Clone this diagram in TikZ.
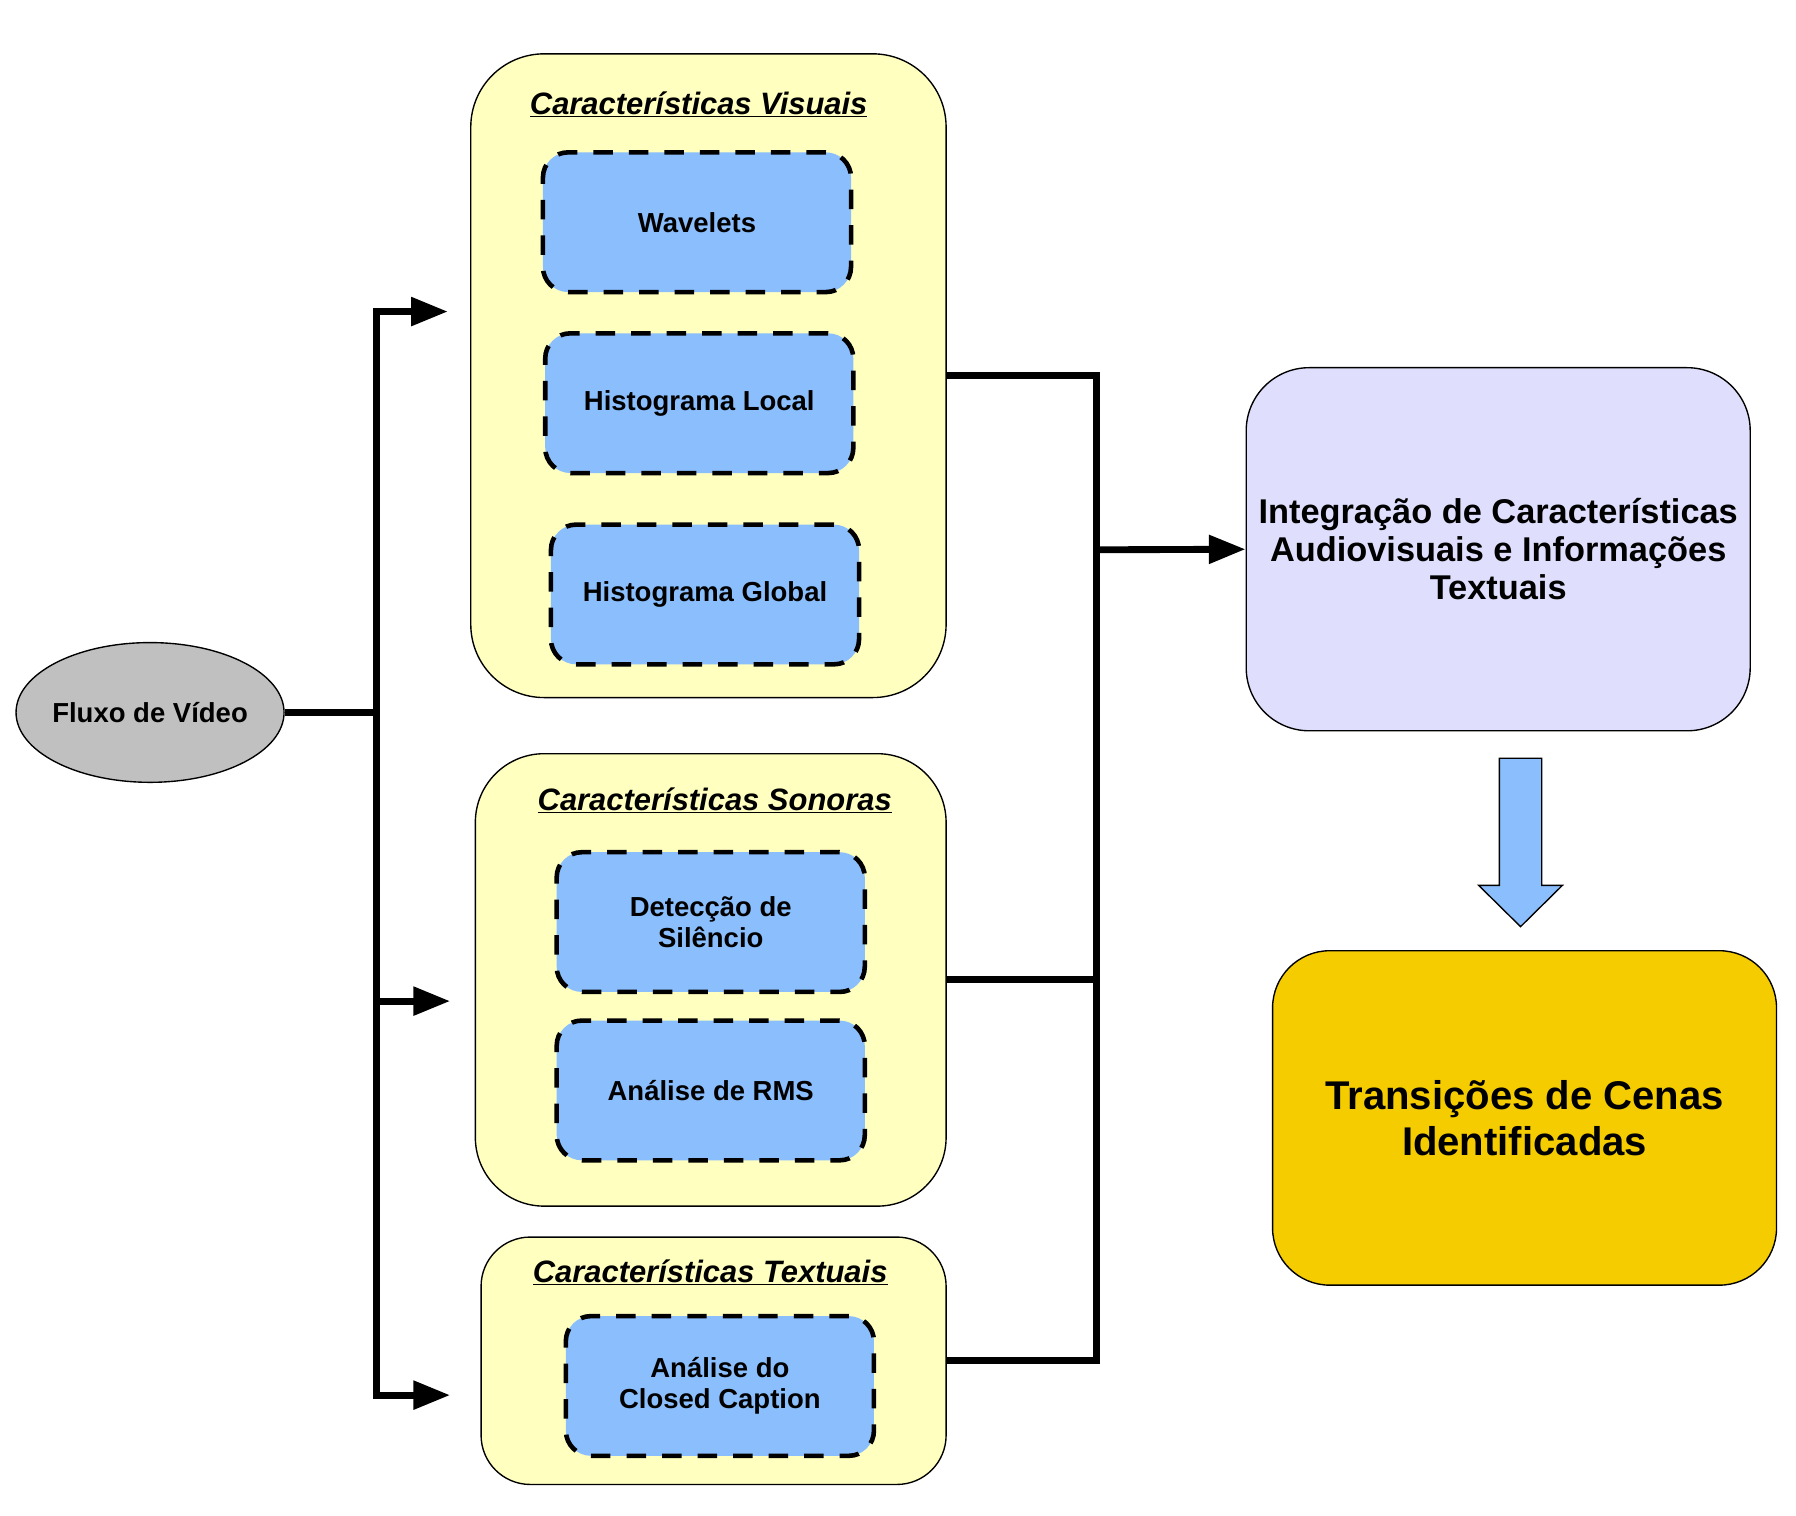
\documentclass[tikz,border=0pt]{standalone}
\usepackage{fontspec}
\setmainfont{Liberation Sans}
\usetikzlibrary{arrows.meta,shapes.geometric}
\definecolor{paleyel}{HTML}{FFFFC0}
\definecolor{skyblue}{HTML}{8ABEFD}
\definecolor{greyfill}{HTML}{C0C0C0}
\definecolor{lav}{HTML}{DFDFFD}
\definecolor{gold}{HTML}{F5CC00}
\begin{document}
\begin{tikzpicture}[x=1pt,y=-1pt,
  container/.style={draw=black,line width=1.2pt,fill=paleyel,rectangle,inner sep=0pt},
  title/.style={font=\fontsize{27}{30}\selectfont\bfseries\itshape,inner sep=0pt},
  inner/.style={draw=black,line width=4pt,dash pattern=on 17pt off 14pt,fill=skyblue,rounded corners=22pt,
     minimum width=269pt,minimum height=122pt,align=center,font=\fontsize{24}{27}\selectfont\bfseries,inner sep=0pt},
  conn/.style={line width=6pt,line join=miter},
  arr/.style={conn,-{Triangle[length=32pt,width=24pt]}},
  bigbox/.style={draw=black,line width=1.2pt,rectangle,align=center,inner sep=0pt,
     minimum width=440pt,font=\bfseries}
]
\useasboundingbox (0,0) rectangle (1568,1323.5);

% containers
\node[container,rounded corners=64pt,minimum width=415pt,minimum height=562pt] (vis) at (618.5,328) {};
\node[container,rounded corners=60pt,minimum width=411pt,minimum height=395pt] (son) at (620.5,855.5) {};
\node[container,rounded corners=43pt,minimum width=406pt,minimum height=216pt] (tex) at (623,1188) {};

\node[title] (visT) at (610,91) {\underline{Características Visuais}};
\node[title] (sonT) at (624,699) {\underline{Características Sonoras}};
\node[title] (texT) at (620,1111) {\underline{Características Textuais}};

% inner boxes
\node[inner] (wav) at (608.5,194) {Wavelets};
\node[inner] (hl) at (610.5,352) {Histograma Local};
\node[inner] (hg) at (615.5,519) {Histograma Global};
\node[inner] (det) at (620.5,805) {Detecção de\\Silêncio};
\node[inner] (rms) at (620.5,952) {Análise de RMS};
\node[inner] (cc) at (628.5,1210) {Análise do\\Closed Caption};

% source
\node[ellipse,draw=black,line width=1.2pt,fill=greyfill,minimum width=234pt,minimum height=122pt,
  inner sep=0pt] (flux) at (131,622) {};
\node[font=\fontsize{24}{27}\selectfont\bfseries,inner sep=0pt] (fluxT) at (flux.center) {Fluxo de Vídeo};

% right boxes
\node[bigbox,fill=lav,rounded corners=55pt,minimum height=317pt,font=\fontsize{30}{33}\selectfont\bfseries] (integ) at (1308,479.5)
  {Integração de Características\\Audiovisuais e Informações\\Textuais};
\node[bigbox,fill=gold,rounded corners=50pt,minimum height=292pt,font=\fontsize{35}{40}\selectfont\bfseries] (trans) at (1331,976)
  {Transições de Cenas\\Identificadas};

% left connectors
\coordinate (j) at (329,622);
\coordinate (a1) at (391,272);
\coordinate (a2) at (393,874);
\coordinate (a3) at (393,1218);
\draw[conn] (flux.east) -- (j);
\draw[arr] (j) |- (a1);
\draw[arr] (j) |- (a2);
\draw[arr] (j) |- (a3);

% right connectors
\coordinate (k) at (957,480);
\draw[conn] (vis.east) -| (k);
\draw[conn] (son.east) -| (k);
\draw[conn] (tex.east) -| (k);
\draw[arr] (k) -- (integ.west);

% block arrow
\draw[line width=1.2pt,fill=skyblue,line join=miter]
  (1309,662) -- (1346,662) -- (1346,773) -- (1364,773) -- (1327.5,809) -- (1291,773) -- (1309,773) -- cycle;
\end{tikzpicture}
\end{document}
